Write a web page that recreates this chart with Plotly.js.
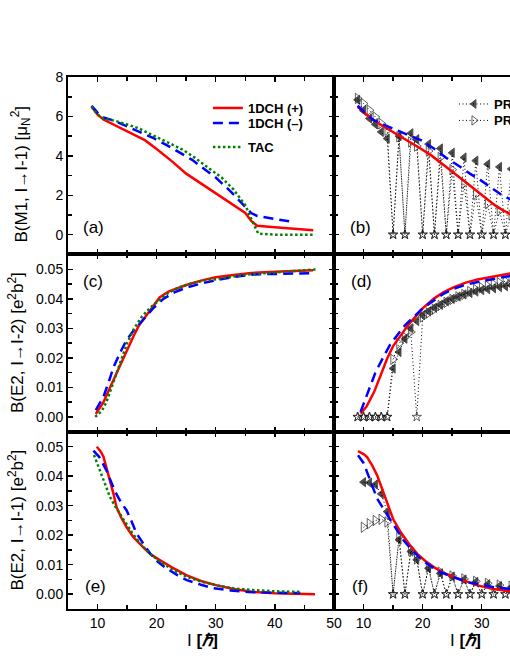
<!DOCTYPE html>
<html><head><meta charset="utf-8">
<script src="https://cdn.plot.ly/plotly-3.0.1.min.js"></script>
<style>html,body{margin:0;padding:0;overflow:hidden;background:#fff;} #chart{width:640px;height:660px;}</style>
</head><body><div id="chart"></div>
<script>
// ---------- Panel (a): B(M1) ----------
const a_red_I = [9,10,11,12,14,16,18,20,22.5,25,27.5,30,32.5,35,36,37,40,43,46.5];
const a_red_B = [6.5,6.1,5.85,5.7,5.4,5.1,4.8,4.35,3.75,3.1,2.6,2.1,1.6,1.1,0.7,0.45,0.37,0.3,0.22];
const a_blue_I = [9,10,11,12.7,15,17,19.5,22,24,26,28,30,32.5,35,36,37,40,43];
const a_blue_B = [6.55,6.2,5.95,5.8,5.5,5.25,4.9,4.5,4.15,3.8,3.35,2.9,2.2,1.45,1.1,0.95,0.8,0.65];
const a_tac_I = [9,10,11,13,15,17,19,20.5,22.5,24.5,26.5,28.5,31,33,35,36,37.2,40,46.5];
const a_tac_B = [6.5,6.1,5.9,5.78,5.6,5.4,5.1,4.9,4.6,4.3,3.9,3.45,2.9,2.3,1.5,0.8,0.05,0,0];

// ---------- Panel (b): B(M1) ----------
const b_red_I = [9,10.6,12,14,16,18,19.5,21.4,23,24.7,26.7,28.7,30.7,32.6,34.8,36];
const b_red_B = [6.5,6.07,5.75,5.39,5.05,4.71,4.4,4.04,3.65,3.27,2.8,2.34,1.87,1.41,1.04,0.85];
const b_blue_I = [9,10.5,11.8,14,16.3,18,19.7,21.9,24,26.4,28,29.8,31.5,33.2,34.8,36];
const b_blue_B = [6.55,6.1,5.8,5.5,5.22,5.0,4.8,4.38,3.9,3.44,3.1,2.77,2.4,2.05,1.8,1.6];
const b_prm_I = [9,10,11,12,13,14,15,16,17,18,19,20,21,22,23,24,25,26,27,28,29,30,31,32,33,34,35,36];
const b_prmP_B = [6.85,6.3,5.9,5.6,5.22,4.88,0,5.0,0,5.15,4.85,0,4.6,0,4.38,0,4.16,0,3.92,0,3.76,0,3.58,0,3.44,0,3.34,0];
const b_prmM_B = [6.92,6.66,6.32,5.98,5.65,5.3,0,4.97,0,4.71,4.5,0,4.25,0,3.92,0,3.3,0,2.6,0,2.05,0,1.58,0,1.22,0,1.0,0];

// ---------- Panel (c): B(E2, I->I-2) ----------
const c_red_I = [9.7,11,12,13,14,15,16,17,18,19,20.5,22,25,27.5,30,33,36,40,46.5];
const c_red_B = [0.001,0.005,0.0095,0.014,0.0185,0.0226,0.027,0.031,0.0338,0.0365,0.0405,0.0425,0.0447,0.0462,0.0473,0.0481,0.0488,0.0492,0.0497];
const c_blue_I = [9.7,11,12,12.7,14,14.9,16,17.8,19.5,21.2,23,25,27.5,30,33,36.4,40,46];
const c_blue_B = [0.0023,0.0068,0.0125,0.0169,0.0225,0.026,0.029,0.0333,0.037,0.0401,0.0422,0.0438,0.0452,0.0463,0.0474,0.0483,0.0485,0.0487];
const c_tac_I = [9.6,10.7,11.5,12.2,13,13.9,15,16.2,17.5,19,20.5,21.8,23.5,25.8,28,30.9,35,40,47];
const c_tac_B = [0,0.002,0.005,0.009,0.014,0.019,0.025,0.03,0.034,0.0372,0.0398,0.0418,0.0437,0.0452,0.0462,0.0469,0.0482,0.049,0.05];

// ---------- Panel (d): B(E2, I->I-2) ----------
const d_red_I = [9.5,10.5,11.8,13,14,15,16.3,17.5,18.5,20,21.9,23.5,25.3,27.3,29.3,32,34.8,36];
const d_red_B = [0.0011,0.0035,0.0085,0.015,0.0198,0.024,0.0277,0.031,0.0333,0.0368,0.0401,0.0422,0.044,0.0455,0.0466,0.0477,0.0486,0.0488];
const d_blue_I = [9.5,10.6,12,13.5,14.5,15.7,17,18.5,20,21.9,23.5,25.3,27.3,29.3,32,34.8,36];
const d_blue_B = [0.0017,0.0073,0.015,0.0209,0.0245,0.0277,0.031,0.0339,0.0368,0.0395,0.0417,0.0435,0.0448,0.0457,0.0468,0.0478,0.0481];
const d_prm_I = [9,10,11,12,13,14,15,16,17,18,19,20,21,22,23,24,25,26,27,28,29,30,31,32,33,34,35,36];
const d_prmP_B = [0,0,0,0,0,0,0.0164,0.022,0.0265,0.030,0.0325,0.0345,0.0358,0.037,0.038,0.0392,0.040,0.0408,0.0415,0.042,0.0425,0.043,0.0433,0.0436,0.044,0.0443,0.0446,0.0448];
const d_prmM_B = [0,0,0,0,0,0,0.0195,0.0249,0.027,0.0288,0,0.0339,0.0352,0.0365,0.0378,0.0388,0.0398,0.0407,0.0415,0.0425,0.0432,0.0438,0.0444,0.045,0.0455,0.046,0.0464,0.0467];

// ---------- Panel (e): B(E2, I->I-1) ----------
const e_red_I = [9.86,10.5,11,11.5,12.1,12.7,13.2,14,14.9,16,17.7,19,20.6,22.5,25.1,27.5,30.2,33,36.4,40,46.8];
const e_red_B = [0.05,0.0485,0.0466,0.043,0.0387,0.034,0.0296,0.026,0.0228,0.0195,0.016,0.0135,0.0115,0.0092,0.0064,0.0045,0.003,0.0018,0.0008,0.0003,0];
const e_blue_I = [9.3,10.3,11.5,12.3,13,14,14.9,15.8,16.6,17.8,18.9,20.2,21.7,23.5,25.1,27.5,29.7,32.5,35.4,40,44.3];
const e_blue_B = [0.0487,0.0465,0.042,0.038,0.0347,0.031,0.0285,0.0245,0.0206,0.017,0.0138,0.011,0.0087,0.0065,0.0048,0.0032,0.002,0.0013,0.0008,0.0005,0.0004];
const e_tac_I = [9.4,10,10.7,11.4,12.1,13.2,14.4,15.8,17.2,18.8,20.6,22.8,25.1,27.5,30.2,33,36.4,40,44.3];
const e_tac_B = [0.0472,0.044,0.0398,0.0362,0.033,0.029,0.0251,0.021,0.0172,0.0138,0.011,0.0082,0.0059,0.0043,0.003,0.002,0.0014,0.001,0.0008];

// ---------- Panel (f): B(E2, I->I-1) ----------
const f_red_I = [9.06,10,10.6,11.5,12.3,13.2,14,15,16.3,17.7,19.1,20.5,21.9,23.5,25.3,27.3,29.3,32,34.8,36];
const f_red_B = [0.0485,0.0475,0.0465,0.0435,0.0403,0.0355,0.0307,0.0255,0.021,0.017,0.0137,0.0112,0.0092,0.0073,0.0058,0.0043,0.003,0.0018,0.0009,0.0007];
const f_blue_I = [9.06,10,10.6,11.5,12.3,13.5,14.6,15.7,16.8,18.2,19.7,21.3,23,25.3,27.6,30,32.1,34.8,36];
const f_blue_B = [0.0471,0.0445,0.0414,0.0368,0.0324,0.0285,0.025,0.0215,0.0182,0.015,0.012,0.0096,0.0075,0.0057,0.0041,0.0031,0.0024,0.0018,0.0016];
const f_prm_I = [10,11,12,13,14,15,16,17,18,19,20,21,22,23,24,25,26,27,28,29,30,31,32,33,34,35,36];
const f_prmP_B = [0.038,0.0378,0.0372,0.034,0.028,0,0.0185,0,0.0145,0.0117,0,0.0088,0,0.0071,0,0.006,0,0.005,0,0.0042,0,0.0034,0,0.0028,0,0.0024,0];
const f_prmM_B = [0.0227,0.0239,0.025,0.0254,0.0245,0,0.0195,0,0.0148,0.012,0,0.0092,0,0.0075,0,0.0062,0,0.0052,0,0.0044,0,0.0037,0,0.0031,0,0.0027,0];

// ---------- Labels ----------
const legendNames = ['1DCH (+)', '1DCH (\u2013)', 'TAC', 'PRM (+)', 'PRM (\u2013)'];
const panelLabels = ['(a)','(b)','(c)','(d)','(e)','(f)'];
const yTitles = ['B(M1, I\u2192I-1) [\u03bc<sub>N</sub><sup>2</sup>]',
                 'B(E2, I\u2192I-2) [e<sup>2</sup>b<sup>2</sup>]',
                 'B(E2, I\u2192I-1) [e<sup>2</sup>b<sup>2</sup>]'];
const xTitle = 'I <b>[<i>\u210f</i>]</b>';

// ---------- Styles ----------
const RED = '#ff0000', BLUE = '#0000ff', GREEN = '#008000';
function lineTr(x, y, xa, ya, kind, leg) {
  const st = {
    red:  {color: RED, width: 2.5, dash: 'solid', name: legendNames[0]},
    blue: {color: BLUE, width: 2.5, dash: '10px,6px', name: legendNames[1]},
    tac:  {color: GREEN, width: 2.5, dash: '2.5px,2.5px', name: legendNames[2]}
  }[kind];
  return {x, y, xaxis: xa, yaxis: ya, type: 'scatter', mode: 'lines', name: st.name,
    line: {color: st.color, width: st.width, dash: st.dash},
    showlegend: !!leg, legend: leg || 'legend', hoverinfo: 'skip'};
}
function prmTr(x, y, xa, ya, plus, leg) {
  const base = plus ? 'triangle-left' : 'triangle-right-open';
  return {x, y, xaxis: xa, yaxis: ya, type: 'scatter', mode: 'lines+markers',
    name: plus ? legendNames[3] : legendNames[4],
    line: {color: '#000', width: 1, dash: '1px,2.5px'},
    marker: {symbol: y.map(v => v === 0 ? 'star-open' : base),
             size: y.map(v => v === 0 ? 7 : (plus ? 8 : 9)),
             color: plus ? '#000' : '#222', line: {color: plus ? '#000' : '#222', width: 1}},
    showlegend: !!leg, legend: leg || 'legend', hoverinfo: 'skip'};
}

const data = [
  lineTr(a_red_I, a_red_B, 'x', 'y', 'red', 'legend'),
  lineTr(a_blue_I, a_blue_B, 'x', 'y', 'blue', 'legend3'),
  lineTr(a_tac_I, a_tac_B, 'x', 'y', 'tac', 'legend4'),

  prmTr(b_prm_I, b_prmP_B, 'x2', 'y2', true, 'legend2'),
  prmTr(b_prm_I, b_prmM_B, 'x2', 'y2', false, 'legend5'),
  lineTr(b_red_I, b_red_B, 'x2', 'y2', 'red'),
  lineTr(b_blue_I, b_blue_B, 'x2', 'y2', 'blue'),

  lineTr(c_red_I, c_red_B, 'x3', 'y3', 'red'),
  lineTr(c_blue_I, c_blue_B, 'x3', 'y3', 'blue'),
  lineTr(c_tac_I, c_tac_B, 'x3', 'y3', 'tac'),

  prmTr(d_prm_I, d_prmP_B, 'x4', 'y4', true),
  prmTr(d_prm_I, d_prmM_B, 'x4', 'y4', false),
  lineTr(d_red_I, d_red_B, 'x4', 'y4', 'red'),
  lineTr(d_blue_I, d_blue_B, 'x4', 'y4', 'blue'),

  lineTr(e_red_I, e_red_B, 'x5', 'y5', 'red'),
  lineTr(e_blue_I, e_blue_B, 'x5', 'y5', 'blue'),
  lineTr(e_tac_I, e_tac_B, 'x5', 'y5', 'tac'),

  prmTr(f_prm_I, f_prmP_B, 'x6', 'y6', true),
  prmTr(f_prm_I, f_prmM_B, 'x6', 'y6', false),
  lineTr(f_red_I, f_red_B, 'x6', 'y6', 'red'),
  lineTr(f_blue_I, f_blue_B, 'x6', 'y6', 'blue')
];

const common = {ticks: 'inside', ticklen: 5, tickwidth: 1.5, tickcolor: '#000',
  showline: true, linewidth: 2, linecolor: '#000', mirror: 'allticks',
  showgrid: false, zeroline: false, tickfont: {size: 14, color: '#000'}};
function xax(domain, anchor, labels) {
  return Object.assign({}, common, {domain, anchor, range: [5, 50.01], tick0: 0, dtick: 10,
    minor: {tick0: 0, dtick: 5, ticks: 'inside', ticklen: 4, tickwidth: 1.5, tickcolor: '#000'},
    showticklabels: labels});
}
function yM1(domain, anchor, labels) {
  return Object.assign({}, common, {domain, anchor, range: [-1, 8.01], tick0: 0, dtick: 2,
    minor: {tick0: 0, dtick: 1, ticks: 'inside', ticklen: 4, tickwidth: 1.5, tickcolor: '#000'},
    showticklabels: labels});
}
function yE2(domain, anchor, labels) {
  return Object.assign({}, common, {domain, anchor, range: [-0.005, 0.0551], tick0: 0, dtick: 0.01,
    tickformat: '.2f',
    minor: {tick0: 0, dtick: 0.005, ticks: 'inside', ticklen: 4, tickwidth: 1.5, tickcolor: '#000'},
    showticklabels: labels});
}
const L = [0, 0.5], R = [0.5, 1], T = [2/3, 1], M = [1/3, 2/3], B = [0, 1/3];

const lblPos = [[0.047,0.718],[0.549,0.718],[0.047,0.6165],[0.551,0.6165],[0.0508,0.0432],[0.549,0.0414]];
const annotations = panelLabels.map((t, i) => ({text: t, xref: 'paper', yref: 'paper',
  x: lblPos[i][0], y: lblPos[i][1], xanchor: 'center', yanchor: 'middle', showarrow: false,
  font: {size: 17, color: '#000'}}));
const yTitlePos = [[-0.0874, 0.8158], [-0.0977, 0.5], [-0.0977, 0.1664]];
yTitles.forEach((t, i) => annotations.push({text: t, xref: 'paper', yref: 'paper',
  x: yTitlePos[i][0], y: yTitlePos[i][1], xanchor: 'center', yanchor: 'middle', textangle: -90,
  showarrow: false, font: {size: 17, color: '#000'}}));
[[0.252, -0.0583], [0.748, -0.0583]].forEach(p => annotations.push({text: xTitle, xref: 'paper', yref: 'paper',
  x: p[0], y: p[1], xanchor: 'center', yanchor: 'middle', showarrow: false, font: {size: 17, color: '#000'}}));

function leg(x, y) {
  return {x, y, xanchor: 'left', yanchor: 'top', bgcolor: 'rgba(0,0,0,0)',
    font: {size: 13, weight: 'bold', color: '#000'}, itemwidth: 30};
}
const layout = {
  width: 640, height: 660,
  margin: {l: 68, r: 40, t: 77, b: 51},
  paper_bgcolor: '#fff', plot_bgcolor: '#fff',
  font: {family: 'Arial, "Liberation Sans", sans-serif', size: 14, color: '#000'},
  showlegend: true,
  legend: leg(0.263, 0.9699),
  legend3: leg(0.263, 0.9418),
  legend4: leg(0.263, 0.8966),
  legend2: leg(0.7256, 0.9774),
  legend5: leg(0.7256, 0.9465),
  xaxis: xax(L, 'y', false), yaxis: yM1(T, 'x', true),
  xaxis2: xax(R, 'y2', false), yaxis2: yM1(T, 'x2', false),
  xaxis3: xax(L, 'y3', false), yaxis3: yE2(M, 'x3', true),
  xaxis4: xax(R, 'y4', false), yaxis4: yE2(M, 'x4', false),
  xaxis5: xax(L, 'y5', true), yaxis5: yE2(B, 'x5', true),
  xaxis6: xax(R, 'y6', true), yaxis6: yE2(B, 'x6', false),
  annotations
};
Plotly.newPlot('chart', data, layout, {displayModeBar: false, staticPlot: true});
</script></body></html>
